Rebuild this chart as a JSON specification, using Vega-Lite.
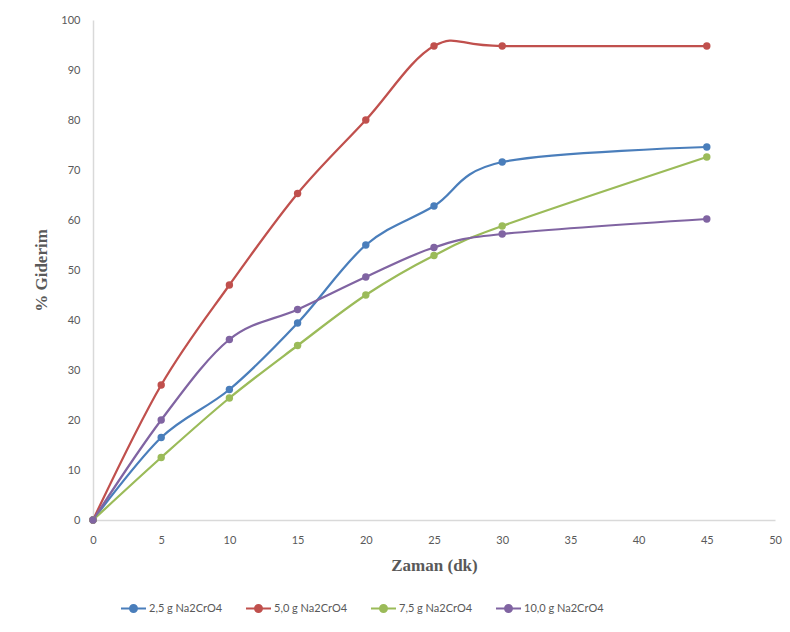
{
  "$schema": "https://vega.github.io/schema/vega-lite/v6.json",
  "width": 682,
  "height": 500,
  "autosize": {"type": "none"},
  "padding": {"left": 93, "top": 20, "right": 15, "bottom": 112},
  "background": "white",
  "config": {
    "view": {"stroke": null},
    "axis": {
      "grid": false,
      "ticks": false,
      "labelFlush": false,
      "domainColor": "#d9d9d9",
      "domainWidth": 1.5,
      "labelColor": "#595959",
      "labelFont": "Lato",
      "labelFontSize": 11,
      "titleColor": "#595959",
      "titleFont": "Liberation Serif",
      "titleFontSize": 17,
      "titleFontWeight": "bold"
    }
  },
  "data": {
    "values": [
      {"t": 0, "g": 0, "s": "2,5 g Na2CrO4"},
      {"t": 5, "g": 16.5, "s": "2,5 g Na2CrO4"},
      {"t": 10, "g": 26.1, "s": "2,5 g Na2CrO4"},
      {"t": 15, "g": 39.4, "s": "2,5 g Na2CrO4"},
      {"t": 20, "g": 55.0, "s": "2,5 g Na2CrO4"},
      {"t": 25, "g": 62.8, "s": "2,5 g Na2CrO4"},
      {"t": 30, "g": 71.6, "s": "2,5 g Na2CrO4"},
      {"t": 45, "g": 74.6, "s": "2,5 g Na2CrO4"},
      {"t": 0, "g": 0, "s": "5,0 g Na2CrO4"},
      {"t": 5, "g": 27.0, "s": "5,0 g Na2CrO4"},
      {"t": 10, "g": 47.0, "s": "5,0 g Na2CrO4"},
      {"t": 15, "g": 65.3, "s": "5,0 g Na2CrO4"},
      {"t": 20, "g": 80.0, "s": "5,0 g Na2CrO4"},
      {"t": 25, "g": 94.8, "s": "5,0 g Na2CrO4"},
      {"t": 30, "g": 94.8, "s": "5,0 g Na2CrO4"},
      {"t": 45, "g": 94.8, "s": "5,0 g Na2CrO4"},
      {"t": 0, "g": 0, "s": "7,5 g Na2CrO4"},
      {"t": 5, "g": 12.5, "s": "7,5 g Na2CrO4"},
      {"t": 10, "g": 24.4, "s": "7,5 g Na2CrO4"},
      {"t": 15, "g": 34.9, "s": "7,5 g Na2CrO4"},
      {"t": 20, "g": 45.0, "s": "7,5 g Na2CrO4"},
      {"t": 25, "g": 52.9, "s": "7,5 g Na2CrO4"},
      {"t": 30, "g": 58.8, "s": "7,5 g Na2CrO4"},
      {"t": 45, "g": 72.6, "s": "7,5 g Na2CrO4"},
      {"t": 0, "g": 0, "s": "10,0 g Na2CrO4"},
      {"t": 5, "g": 20.0, "s": "10,0 g Na2CrO4"},
      {"t": 10, "g": 36.1, "s": "10,0 g Na2CrO4"},
      {"t": 15, "g": 42.1, "s": "10,0 g Na2CrO4"},
      {"t": 20, "g": 48.6, "s": "10,0 g Na2CrO4"},
      {"t": 25, "g": 54.5, "s": "10,0 g Na2CrO4"},
      {"t": 30, "g": 57.2, "s": "10,0 g Na2CrO4"},
      {"t": 45, "g": 60.2, "s": "10,0 g Na2CrO4"}
    ]
  },
  "encoding": {
    "x": {
      "field": "t", "type": "quantitative", "title": "Zaman (dk)",
      "scale": {"domain": [0, 50], "nice": false},
      "axis": {"values": [0,5,10,15,20,25,30,35,40,45,50], "labelPadding": 14, "titlePadding": 12}
    },
    "y": {
      "field": "g", "type": "quantitative", "title": "% Giderim",
      "scale": {"domain": [0, 100], "nice": false},
      "axis": {"values": [0,10,20,30,40,50,60,70,80,90,100], "labelPadding": 13, "titlePadding": 10}
    },
    "color": {
      "field": "s", "type": "nominal", "title": null,
      "scale": {
        "domain": ["2,5 g Na2CrO4", "5,0 g Na2CrO4", "7,5 g Na2CrO4", "10,0 g Na2CrO4"],
        "range": ["#4a7ebb", "#c0504d", "#9bbb59", "#8064a2"]
      },
      "legend": {
        "orient": "none",
        "legendX": 27,
        "legendY": 575,
        "direction": "horizontal",
        "symbolType": "M-1,0H1M-0.28,0A0.28,0.28 0 1,1 0.28,0A0.28,0.28 0 1,1 -0.28,0Z",
        "symbolSize": 625,
        "symbolStrokeWidth": 2,
        "labelFont": "Lato",
        "labelFontSize": 11,
        "labelColor": "#595959",
        "labelOffset": 2,
        "columnPadding": 19,
        "padding": 0
      }
    }
  },
  "layer": [
    {"mark": {"type": "line", "interpolate": "cardinal", "strokeWidth": 2.25}},
    {"mark": {"type": "point", "filled": true, "size": 55, "opacity": 1}, "encoding": {"color": {"field": "s", "type": "nominal", "legend": null}}}
  ]
}
